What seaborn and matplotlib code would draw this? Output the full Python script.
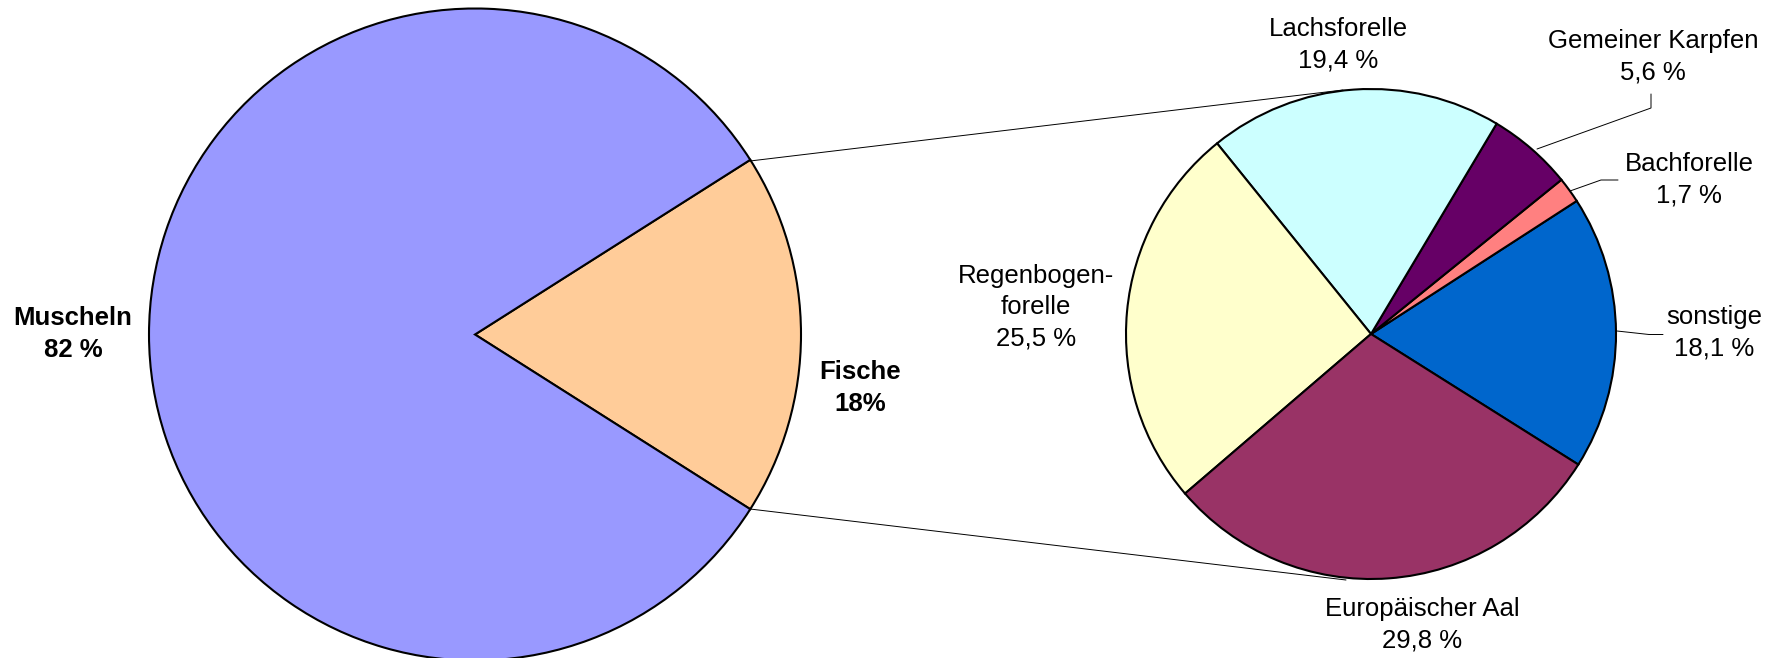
import matplotlib
matplotlib.use("Agg")
import matplotlib.pyplot as plt
import seaborn as sns

# ---- data ----
main_labels = ["Fische\n18%", "Muscheln\n82 %"]
main_values = [18, 82]
main_colors = ["#FFCC99", "#9999FF"]

fish_names = ["sonstige", "Bachforelle", "Gemeiner Karpfen", "Lachsforelle",
              "Regenbogen-\nforelle", "Europäischer Aal"]
fish_values = [18.1, 1.7, 5.6, 19.4, 25.5, 29.8]
fish_colors = ["#0066CC", "#FF8080", "#660066", "#CCFFFF", "#FFFFCC", "#993366"]

sns.set_theme(style="white")
plt.rcParams['font.family'] = ['Liberation Sans', 'DejaVu Sans']
plt.rcParams['text.color'] = 'black'

W, H = 1780, 658
fig = plt.figure(figsize=(W / 100, H / 100), dpi=100)
ax = fig.add_axes([0, 0, 1, 1])

def Y(yp):
    return H - yp

edge = dict(edgecolor="black", linewidth=1.5)

# main pie
c1 = (475, Y(334.5)); r1 = 326
ax.pie(main_values, colors=sns.color_palette(main_colors), startangle=-32.4,
       counterclock=True, center=c1, radius=r1, wedgeprops=edge)

# secondary pie
c2 = (1371, Y(334)); r2 = 245
ax.pie(fish_values, colors=sns.color_palette(fish_colors), startangle=-32.2,
       counterclock=True, center=c2, radius=r2, wedgeprops=edge)

ax.set_xlim(0, W)
ax.set_ylim(0, H)
ax.set_aspect("equal")
ax.axis("off")

# connector lines
ax.plot([750, 1343], [Y(161), Y(90)], color="black", lw=0.7)
ax.plot([750, 1346], [Y(509), Y(580)], color="black", lw=0.7)

# leader lines
ax.plot([1537, 1651, 1651], [Y(149), Y(108), Y(94)], color="black", lw=0.7)
ax.plot([1570, 1601, 1618], [Y(191), Y(180), Y(180)], color="black", lw=0.7)
ax.plot([1617, 1649, 1663], [Y(331), Y(334.5), Y(334.5)], color="black", lw=0.7)

# main labels (bold)
fs = 18.5
ls = 1.37
ax.text(860, Y(388), main_labels[0], ha="center", va="center", fontsize=fs,
        fontweight="bold", multialignment="center", linespacing=ls, color="black")
ax.text(73, Y(334), main_labels[1], ha="center", va="center", fontsize=fs,
        fontweight="bold", multialignment="center", linespacing=ls, color="black")

# secondary labels
pos = [(1714, 333), (1689, 180), (1653, 57), (1338, 45), (1036, 307), (1422, 625)]
for name, v, (x, y) in zip(fish_names, fish_values, pos):
    txt = f"{name}\n{v:.1f} %".replace(".", ",")
    ax.text(x, Y(y), txt, ha="center", va="center", fontsize=fs,
            multialignment="center", linespacing=ls, color="black")

fig.savefig("out.png", dpi=100)
